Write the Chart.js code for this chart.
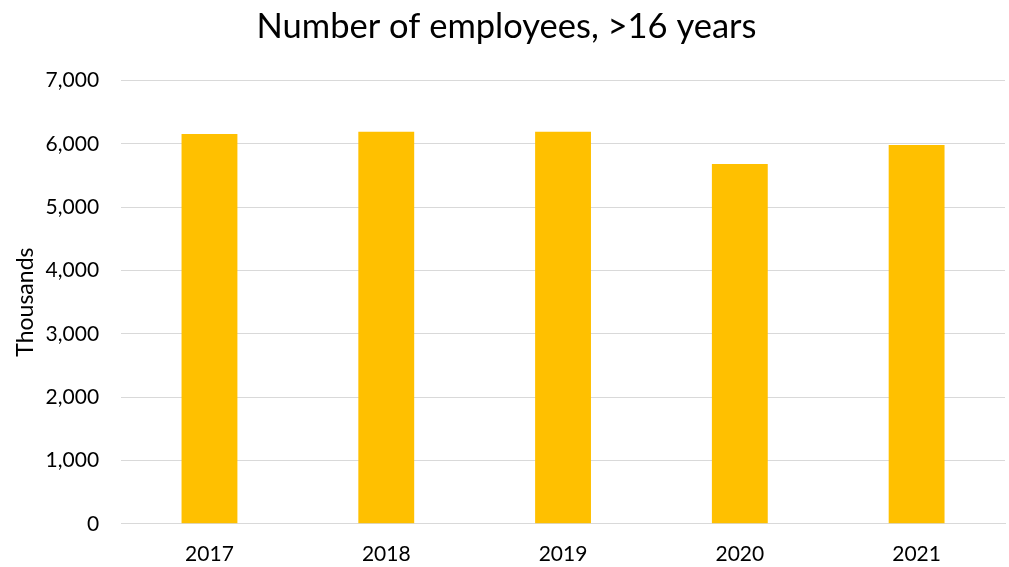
<!DOCTYPE html>
<html>
<head>
<meta charset="utf-8">
<script src="https://cdn.jsdelivr.net/npm/chart.js@4"></script>
<style>
  html, body { margin: 0; padding: 0; background: #fff; }
  #wrap { width: 1009px; height: 567px; }
</style>
</head>
<body>
<div id="wrap"><canvas id="c" width="1009" height="567"></canvas></div>
<script>
// Employees aged over 16, in thousands
const years = ['2017', '2018', '2019', '2020', '2021'];
const employees = [6153, 6189, 6189, 5679, 5979];
const yTicks = [0, 1000, 2000, 3000, 4000, 5000, 6000, 7000];

const FONT = 'Lato, "Open Sans", sans-serif';

new Chart(document.getElementById('c'), {
  type: 'bar',
  data: {
    labels: years,
    datasets: [{
      label: 'Employees',
      data: employees,
      backgroundColor: '#FFC000',
      borderWidth: 0,
      categoryPercentage: 1,
      barPercentage: 0.316
    }]
  },
  options: {
    responsive: false,
    animation: false,
    layout: { padding: { left: 8, right: 4, top: 6, bottom: -10 } },
    plugins: {
      legend: { display: false },
      tooltip: { enabled: false },
      title: {
        display: true,
        text: 'Number of employees, >16 years',
        color: '#000',
        font: { family: FONT, size: 34.5, weight: 'normal' },
        padding: { top: 0, bottom: 33 }
      }
    },
    scales: {
      x: {
        grid: { display: false },
        border: { color: '#d9d9d9', width: 1 },
        ticks: { color: '#000', font: { family: FONT, size: 21 }, padding: 10 }
      },
      y: {
        min: 0,
        max: 7000,
        afterBuildTicks: (axis) => { axis.ticks = yTicks.map(v => ({ value: v })); },
        grid: { color: '#d9d9d9', lineWidth: 1, drawTicks: false },
        border: { display: false },
        ticks: {
          color: '#000',
          font: { family: FONT, size: 21 },
          padding: 22,
          callback: (v) => v.toLocaleString('en-US')
        },
        title: {
          display: true,
          text: 'Thousands',
          color: '#000',
          font: { family: FONT, size: 23 },
          padding: { top: 4, bottom: -16 }
        }
      }
    }
  }
});
</script>
</body>
</html>
